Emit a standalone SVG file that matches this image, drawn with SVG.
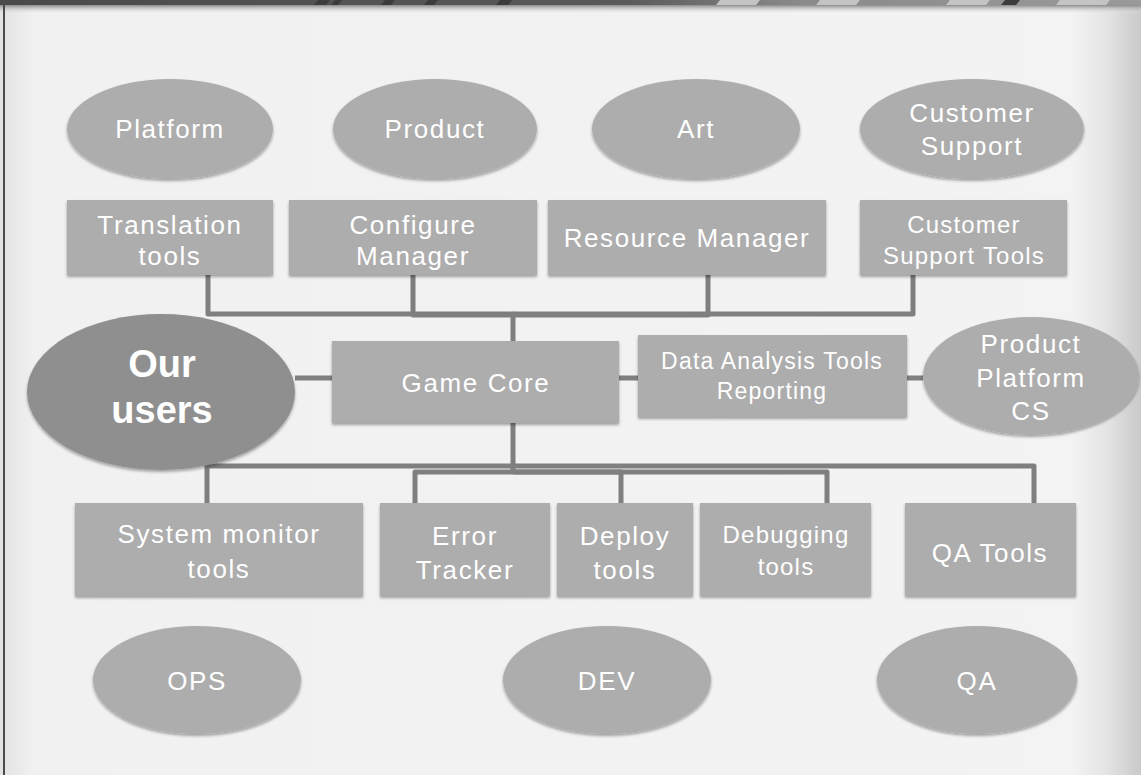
<svg xmlns="http://www.w3.org/2000/svg" width="1141" height="775" viewBox="0 0 1141 775">
<defs>
<linearGradient id="bgH" x1="0" y1="0" x2="1" y2="0">
<stop offset="0" stop-color="#e2e2e2"/>
<stop offset="0.03" stop-color="#f1f1f1"/>
<stop offset="0.94" stop-color="#f3f3f3"/>
<stop offset="0.97" stop-color="#e4e4e4"/>
<stop offset="1" stop-color="#c9c9c9"/>
</linearGradient>
<linearGradient id="topShade" x1="0" y1="0" x2="0" y2="1">
<stop offset="0" stop-color="#8a8a8a"/>
<stop offset="1" stop-color="#f0f0f0" stop-opacity="0"/>
</linearGradient>
<linearGradient id="bar" x1="0" y1="0" x2="1" y2="0">
<stop offset="0" stop-color="#4a4a4a"/>
<stop offset="0.55" stop-color="#5a5a5a"/>
<stop offset="0.7" stop-color="#8a8a8a"/>
<stop offset="1" stop-color="#9a9a9a"/>
</linearGradient>
<filter id="sh" x="-10%" y="-10%" width="120%" height="130%">
<feDropShadow dx="0" dy="2" stdDeviation="1.5" flood-color="#000" flood-opacity="0.35"/>
</filter>
<style>
.n{fill:#adadad;filter:url(#sh)}
.u{fill:#8f8f8f;filter:url(#sh)}
.t{font-family:"Liberation Sans",Arial,sans-serif;font-size:26px;letter-spacing:1.6px;fill:#ffffff;text-anchor:middle}
.s{font-size:24px;letter-spacing:1.2px}
.d{font-size:23px;letter-spacing:1.2px}
.b{font-family:"Liberation Sans",Arial,sans-serif;font-size:38px;font-weight:bold;fill:#ffffff;text-anchor:middle}
.c{fill:none;stroke:#7f7f7f;stroke-width:5;stroke-linejoin:round}
</style>
</defs>
<rect x="0" y="0" width="1141" height="775" fill="url(#bgH)"/>
<rect x="0" y="5" width="1141" height="9" fill="url(#topShade)"/>
<rect x="0" y="0" width="1141" height="5" fill="url(#bar)"/>
<g fill="#3c3c3c">
<polygon points="318,0 330,0 326,5 314,5"/>
<polygon points="335,0 342,0 338,5 331,5"/>
<polygon points="385,0 395,0 391,5 381,5"/>
<polygon points="428,0 438,0 434,5 424,5"/>
<polygon points="500,0 512,0 508,5 496,5"/>
<polygon points="1005,0 1020,0 1016,5 1001,5"/>
</g>
<g fill="#c4c4c4">
<polygon points="720,0 760,0 756,5 716,5"/>
<polygon points="820,0 860,0 856,5 816,5"/>
<polygon points="950,0 990,0 986,5 946,5"/>
<polygon points="1060,0 1110,0 1106,5 1056,5"/>
</g>
<rect x="3" y="5" width="2" height="770" fill="#4a4a4a"/>

<g id="connectors">
<path class="c" d="M208,275 V314 H513 V341"/>
<path class="c" d="M413,275 V315 H513"/>
<path class="c" d="M708,275 V315 H513"/>
<path class="c" d="M913,275 V314 H513"/>
<path class="c" d="M295,378 H332"/>
<path class="c" d="M619,378 H638"/>
<path class="c" d="M907,378 H923"/>
<path class="c" d="M513,423 V472"/>
<path class="c" d="M207,503 V466 H513"/>
<path class="c" d="M1034,503 V466 H513"/>
<path class="c" d="M415,503 V472 H513"/>
<path class="c" d="M621,503 V472 H513"/>
<path class="c" d="M827,503 V472 H513"/>
</g>

<g id="platform"><ellipse class="n" cx="170" cy="129" rx="103" ry="50"/><text class="t" x="170" y="138">Platform</text></g>
<g id="product"><ellipse class="n" cx="435" cy="129" rx="102" ry="50"/><text class="t" x="435" y="138">Product</text></g>
<g id="art"><ellipse class="n" cx="696" cy="129" rx="104" ry="50"/><text class="t" x="696" y="138">Art</text></g>
<g id="customer-support"><ellipse class="n" cx="972" cy="129" rx="112" ry="50"/><text class="t" x="972" y="122">Customer</text><text class="t" x="972" y="155">Support</text></g>

<g id="translation-tools"><rect class="n" x="67" y="200" width="206" height="75"/><text class="t" x="170" y="234">Translation</text><text class="t" x="170" y="265">tools</text></g>
<g id="configure-manager"><rect class="n" x="289" y="200" width="248" height="75"/><text class="t" x="413" y="234">Configure</text><text class="t" x="413" y="265">Manager</text></g>
<g id="resource-manager"><rect class="n" x="548" y="200" width="278" height="75"/><text class="t" x="687" y="247">Resource Manager</text></g>
<g id="customer-support-tools"><rect class="n" x="860" y="200" width="207" height="75"/><text class="t s" x="964" y="233">Customer</text><text class="t s" x="964" y="264">Support Tools</text></g>

<g id="our-users"><ellipse class="u" cx="161" cy="392" rx="134" ry="78"/><text class="b" x="162" y="377">Our</text><text class="b" x="162" y="423">users</text></g>
<g id="game-core"><rect class="n" x="332" y="341" width="287" height="82"/><text class="t" x="476" y="392">Game Core</text></g>
<g id="data-analysis"><rect class="n" x="638" y="335" width="269" height="82"/><text class="t d" x="772" y="369">Data Analysis Tools</text><text class="t d" x="772" y="399">Reporting</text></g>
<g id="product-platform-cs"><ellipse class="n" cx="1031" cy="376" rx="108" ry="59"/><text class="t" x="1031" y="353">Product</text><text class="t" x="1031" y="387">Platform</text><text class="t" x="1031" y="420">CS</text></g>

<g id="system-monitor-tools"><rect class="n" x="75" y="503" width="288" height="93"/><text class="t" x="219" y="543">System monitor</text><text class="t" x="219" y="578">tools</text></g>
<g id="error-tracker"><rect class="n" x="380" y="503" width="170" height="93"/><text class="t" x="465" y="545">Error</text><text class="t" x="465" y="579">Tracker</text></g>
<g id="deploy-tools"><rect class="n" x="557" y="503" width="136" height="93"/><text class="t" x="625" y="545">Deploy</text><text class="t" x="625" y="579">tools</text></g>
<g id="debugging-tools"><rect class="n" x="700" y="503" width="171" height="93"/><text class="t s" x="786" y="543">Debugging</text><text class="t s" x="786" y="575">tools</text></g>
<g id="qa-tools"><rect class="n" x="905" y="503" width="171" height="93"/><text class="t" x="990" y="562">QA Tools</text></g>

<g id="ops"><ellipse class="n" cx="197" cy="680" rx="104" ry="54"/><text class="t" x="197" y="690">OPS</text></g>
<g id="dev"><ellipse class="n" cx="607" cy="680" rx="104" ry="54"/><text class="t" x="607" y="690">DEV</text></g>
<g id="qa"><ellipse class="n" cx="977" cy="680" rx="100" ry="54"/><text class="t" x="977" y="690">QA</text></g>
</svg>
